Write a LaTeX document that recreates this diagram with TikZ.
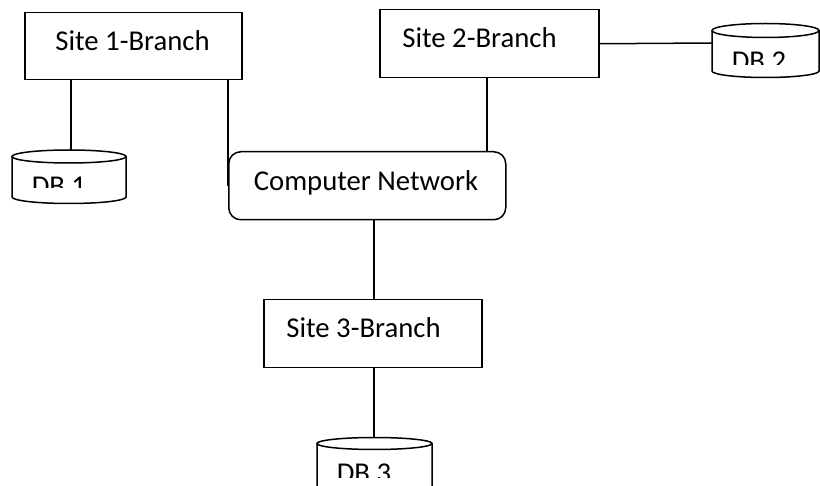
\documentclass[tikz,border=0pt]{standalone}
\usepackage{fontspec}
\setmainfont{Carlito}
\usetikzlibrary{calc}
\begin{document}
\begin{tikzpicture}[x=1pt,y=-1pt,line width=1.5pt,
  box/.style={draw,rectangle,inner sep=0pt,anchor=north west},
  lbl/.style={inner sep=0pt,anchor=base,font=\fontsize{28.7}{34}\selectfont},
  dblbl/.style={inner sep=0pt,anchor=base west,font=\fontsize{28.7}{34}\selectfont}]
\useasboundingbox (0,0) rectangle (820,486);
\clip (0,0) rectangle (820,486);
% boxes
\node[box,minimum width=217pt,minimum height=67pt] (s1) at (24,12) {};
\node[box,minimum width=219pt,minimum height=68pt] (s2) at (379,9) {};
\node[box,minimum width=218pt,minimum height=68pt] (s3) at (263,299) {};
\node[box,rounded corners=12pt,minimum width=277pt,minimum height=68pt] (net) at (228,151) {};
\node[lbl] (t1) at (132.5,50.5) {Site 1-Branch};
\node[lbl] (t2) at (479.5,48) {Site 2-Branch};
\node[lbl] (t3) at (363.5,338) {Site 3-Branch};
\node[lbl] (tn) at (366,191) {Computer Network};
% cylinders
\coordinate (db1top) at (71,150);
\coordinate (db2left) at (712,43);
\coordinate (db3top) at (374,438);
% DB1
\filldraw[fill=white] (12,156.5) -- (12,197) arc[start angle=180,end angle=360,x radius=57pt,y radius=6.5pt] -- (126,156.5);
\draw (69,156.5) ellipse[x radius=57pt,y radius=6.5pt];
\begin{scope}
\clip (12,160) rectangle (126,188);
\node[dblbl] (d1) at (31,195.5) {DB 1};
\end{scope}
% DB2
\filldraw[fill=white] (712,30.5) -- (712,71) arc[start angle=180,end angle=360,x radius=53.5pt,y radius=6.5pt] -- (819,30.5);
\draw (765.5,30.5) ellipse[x radius=53.5pt,y radius=7pt];
\begin{scope}
\clip (712,34) rectangle (819,65);
\node[dblbl] (d2) at (731,70.5) {DB 2};
\end{scope}
% DB3
\filldraw[fill=white] (317,443.5) -- (317,492) arc[start angle=180,end angle=360,x radius=57.5pt,y radius=6pt] -- (432,443.5);
\draw (374.5,443.5) ellipse[x radius=57.5pt,y radius=6pt];
\begin{scope}
\clip (317,447) rectangle (432,477);
\node[dblbl] (d3) at (336,482.5) {DB 3};
\end{scope}
% connectors
\draw (s1.south -| db1top) -- (db1top);
\draw (net.west |- s1.south) -- (net.west);
\draw ([xshift=108pt]s2.south west) -- ([xshift=108pt]s2.south west |- net.north);
\draw (s2.east) -- (db2left);
\draw ([xshift=111pt]s3.north west |- net.south) -- ([xshift=111pt]s3.north west);
\draw ([xshift=111pt]s3.south west) -- (db3top);
\end{tikzpicture}
\end{document}
